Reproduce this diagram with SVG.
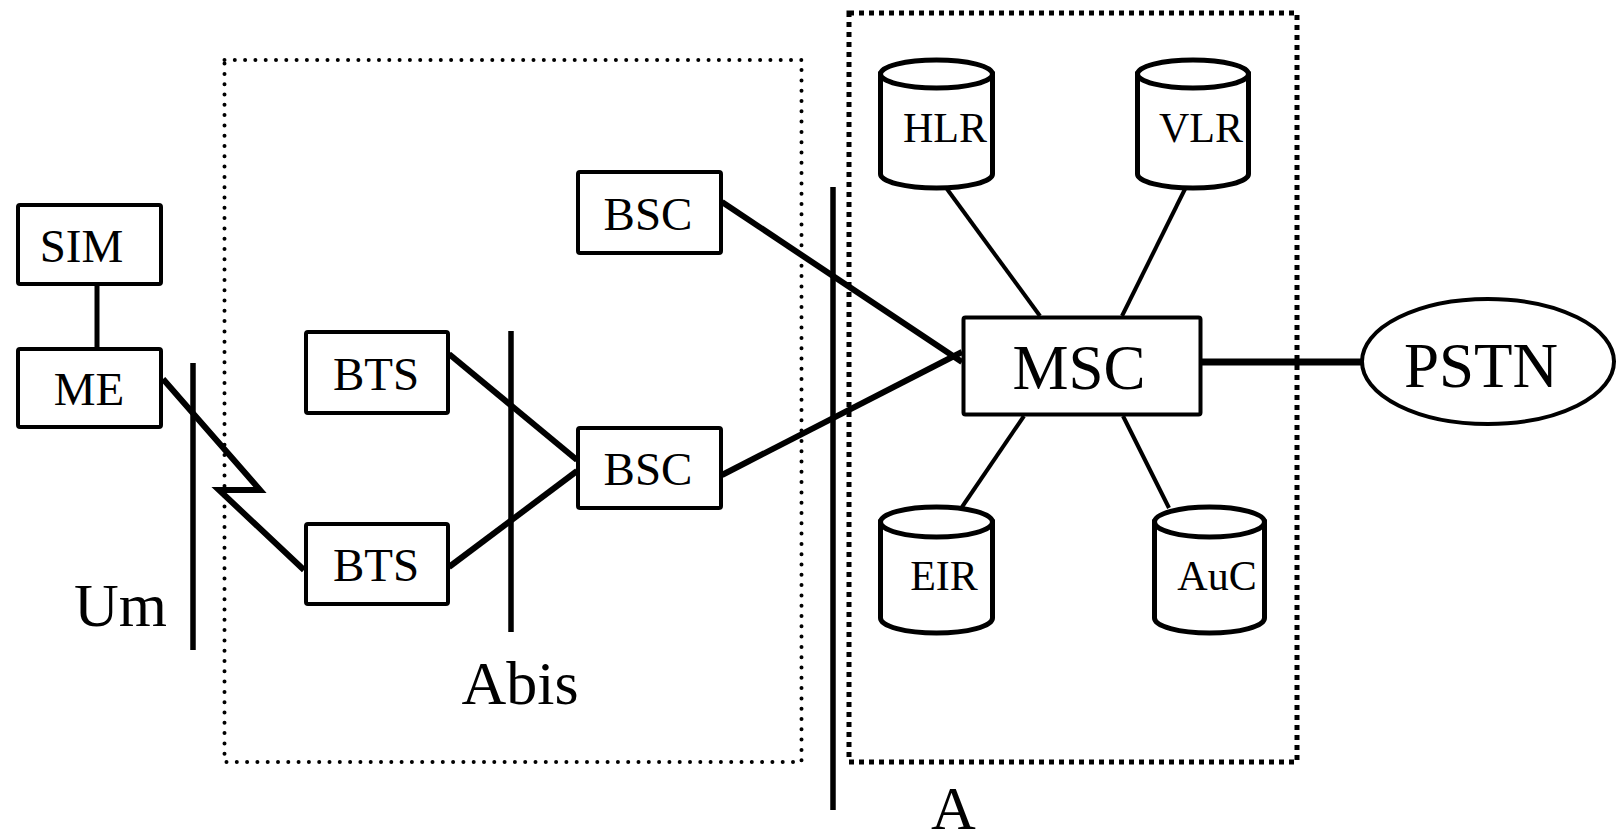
<svg xmlns="http://www.w3.org/2000/svg" width="1620" height="835" viewBox="0 0 1620 835">
  <style>
    text { font-family: "Liberation Serif", "Times New Roman", serif; fill: #000; }
    .box { fill: #fff; stroke: #000; stroke-width: 4; stroke-linejoin: round; }
    .db { fill: #fff; stroke: #000; stroke-width: 5; }
    .thick { fill: none; stroke: #000; stroke-width: 6; }
    .thin { fill: none; stroke: #000; stroke-width: 4; }
    .iface { fill: none; stroke: #000; stroke-width: 5.5; }
    .lbl { font-size: 47px; text-anchor: middle; }
    .dblbl { font-size: 42px; text-anchor: middle; }
    .big { font-size: 63px; text-anchor: middle; }
    .ifl { font-size: 62px; }
  </style>

  <!-- subsystem boundaries -->
  <g id="bss-boundary">
    <rect x="224.5" y="60" width="577" height="702" fill="none" stroke="#000" stroke-width="4" stroke-linecap="round" stroke-dasharray="0 10.3"/>
  </g>
  <g id="nss-boundary">
    <rect x="849" y="13" width="448" height="749" fill="none" stroke="#000" stroke-width="5" stroke-dasharray="5 5"/>
  </g>

  <!-- interface reference lines -->
  <g id="interfaces">
    <line class="iface" x1="193" y1="363" x2="193" y2="650"/>
    <line class="iface" x1="511" y1="331" x2="511" y2="632"/>
    <line class="iface" x1="833" y1="187" x2="833" y2="810"/>
    <text class="ifl" x="74" y="626">Um</text>
    <text class="ifl" x="520" y="704" text-anchor="middle">Abis</text>
    <text class="ifl" x="931" y="829">A</text>
  </g>

  <!-- connectors -->
  <g id="connectors">
    <line x1="97" y1="286" x2="97" y2="347" stroke="#000" stroke-width="5"/>
    <polyline class="thick" points="163,379 260,490 219,490 304,570" stroke-linejoin="miter"/>
    <line class="thick" x1="449" y1="354" x2="577" y2="460"/>
    <line class="thick" x1="449" y1="567" x2="577" y2="471"/>
    <line class="thick" x1="722" y1="202" x2="962" y2="362"/>
    <line class="thick" x1="722" y1="475" x2="962" y2="352"/>
    <line x1="1202" y1="362" x2="1362" y2="362" stroke="#000" stroke-width="7"/>
    <line class="thin" x1="947" y1="189" x2="1040" y2="316"/>
    <line class="thin" x1="1185" y1="189" x2="1122" y2="316"/>
    <line class="thin" x1="962" y1="507" x2="1024" y2="416"/>
    <line class="thin" x1="1169" y1="508" x2="1123" y2="416"/>
  </g>

  <!-- mobile station -->
  <g id="sim">
    <rect class="box" x="18" y="205" width="143" height="79" rx="2"/>
    <text class="lbl" x="81.5" y="262">SIM</text>
  </g>
  <g id="me">
    <rect class="box" x="18" y="349" width="143" height="78" rx="2"/>
    <text class="lbl" x="89" y="405">ME</text>
  </g>

  <!-- base station subsystem -->
  <g id="bts-1">
    <rect class="box" x="306" y="332" width="142" height="81" rx="2"/>
    <text class="lbl" x="376" y="390">BTS</text>
  </g>
  <g id="bts-2">
    <rect class="box" x="306" y="524" width="142" height="80" rx="2"/>
    <text class="lbl" x="376" y="581">BTS</text>
  </g>
  <g id="bsc-1">
    <rect class="box" x="578" y="172" width="143" height="81" rx="2"/>
    <text class="lbl" x="648" y="230" font-size="48">BSC</text>
  </g>
  <g id="bsc-2">
    <rect class="box" x="578" y="428" width="143" height="80" rx="2"/>
    <text class="lbl" x="648" y="485" font-size="48">BSC</text>
  </g>

  <!-- network switching subsystem -->
  <g id="msc">
    <rect class="box" x="963.5" y="317.5" width="237" height="97" rx="2" stroke-width="5"/>
    <text class="big" x="1079" y="389">MSC</text>
  </g>
  <g id="hlr">
    <path class="db" d="M880.5,74 V174 A56,14 0 0 0 992.5,174 V74 Z"/>
    <ellipse class="db" cx="936.5" cy="74" rx="56" ry="14"/>
    <text class="dblbl" x="945" y="142">HLR</text>
  </g>
  <g id="vlr">
    <path class="db" d="M1137.5,74 V174 A55.5,14 0 0 0 1248.5,174 V74 Z"/>
    <ellipse class="db" cx="1193" cy="74" rx="55.5" ry="14"/>
    <text class="dblbl" x="1201" y="142">VLR</text>
  </g>
  <g id="eir">
    <path class="db" d="M880.5,522 V618 A56,15 0 0 0 992.5,618 V522 Z"/>
    <ellipse class="db" cx="936.5" cy="522" rx="56" ry="15"/>
    <text class="dblbl" x="944" y="590">EIR</text>
  </g>
  <g id="auc">
    <path class="db" d="M1154.5,522 V618 A55,15 0 0 0 1264.5,618 V522 Z"/>
    <ellipse class="db" cx="1209.5" cy="522" rx="55" ry="15"/>
    <text class="dblbl" x="1217" y="590">AuC</text>
  </g>

  <!-- external network -->
  <g id="pstn">
    <ellipse cx="1488" cy="361.5" rx="126" ry="62.5" fill="#fff" stroke="#000" stroke-width="4"/>
    <text class="big" x="1481" y="387">PSTN</text>
  </g>
</svg>
